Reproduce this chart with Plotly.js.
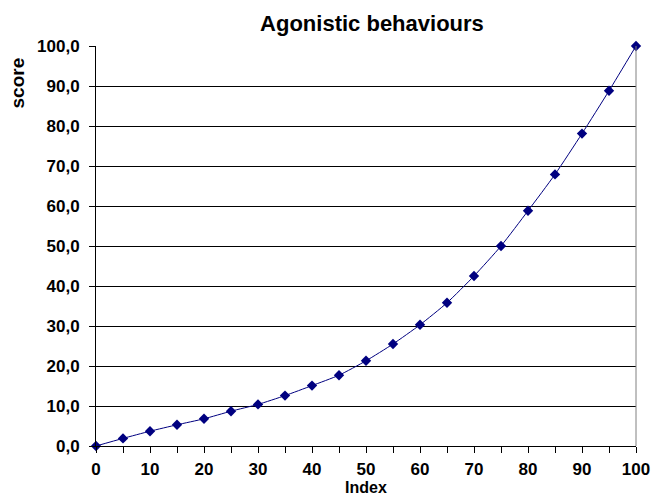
<!DOCTYPE html>
<html><head><meta charset="utf-8">
<script src="https://cdn.plot.ly/plotly-3.0.1.min.js"></script>
<style>html,body{margin:0;padding:0;background:#fff}</style>
</head><body>
<div id="chart" style="width:651px;height:499px"></div>
<script>
const indexValues = [0,5,10,15,20,25,30,35,40,45,50,55,60,65,70,75,80,85,90,95,100];
const scoreValues = [0,1.9,3.7,5.3,6.8,8.7,10.4,12.6,15.1,17.7,21.3,25.5,30.3,35.8,42.5,50.0,58.8,67.9,78.1,88.8,100];
const chartTitle = "Agonistic behaviours";
const xTitle = "Index";
const yTitle = "score";

const font = {family: "Liberation Sans, Arial, sans-serif", color: "#000"};
Plotly.newPlot("chart", [{
  x: indexValues, y: scoreValues, type: "scatter", mode: "lines+markers",
  line: {color: "#000080", width: 1, shape: "spline", smoothing: 0.6},
  marker: {symbol: "diamond", size: 8, color: "#000080"},
  cliponaxis: false
}], {
  width: 651, height: 499,
  margin: {l: 96, r: 15, t: 46, b: 53},
  paper_bgcolor: "#fff", plot_bgcolor: "#fff",
  showlegend: false,
  separators: ",.",
  title: {text: "<b>" + chartTitle + "</b>", font: Object.assign({size: 22}, font), x: 0.5714, xanchor: "center", y: 0.954, yanchor: "middle"},
  xaxis: {
    range: [0, 100], dtick: 10, tick0: 0, ticks: "outside", ticklen: 6, tickcolor: "#000",
    showgrid: false, zeroline: false, showline: true, linecolor: "#000", linewidth: 1,
    tickfont: Object.assign({size: 17}, font), tickprefix: "<b>", ticksuffix: "</b>",
    ticklabelstandoff: 2,
    minor: {dtick: 5, ticks: "outside", ticklen: 6, tickcolor: "#000"},
    fixedrange: true
  },
  yaxis: {
    range: [0, 100], dtick: 10, tick0: 0, ticks: "outside", ticklen: 6, tickcolor: "#000",
    showgrid: true, gridcolor: "#000", gridwidth: 1, zeroline: false,
    showline: true, linecolor: "#000", linewidth: 1, mirror: false,
    tickformat: ".1f",
    tickfont: Object.assign({size: 17}, font), tickprefix: "<b>", ticksuffix: "</b>",
    ticklabelstandoff: 6,
    fixedrange: true
  },
  annotations: [
    {text: "<b>" + yTitle + "</b>", xref: "paper", yref: "paper", x: -0.1454, y: 0.9075,
     xanchor: "center", yanchor: "middle", textangle: -90, showarrow: false, font: Object.assign({size: 19}, font)},
    {text: "<b>" + xTitle + "</b>", xref: "paper", yref: "paper", x: 0.5, y: -0.1275,
     xanchor: "center", yanchor: "bottom", borderpad: 0, showarrow: false, font: Object.assign({size: 16}, font)}
  ],
  shapes: [{type: "line", xref: "paper", yref: "paper", x0: 1, x1: 1, y0: 0, y1: 1, line: {color: "#808080", width: 1}}]
}, {displayModeBar: false, staticPlot: true});
</script>
</body></html>
